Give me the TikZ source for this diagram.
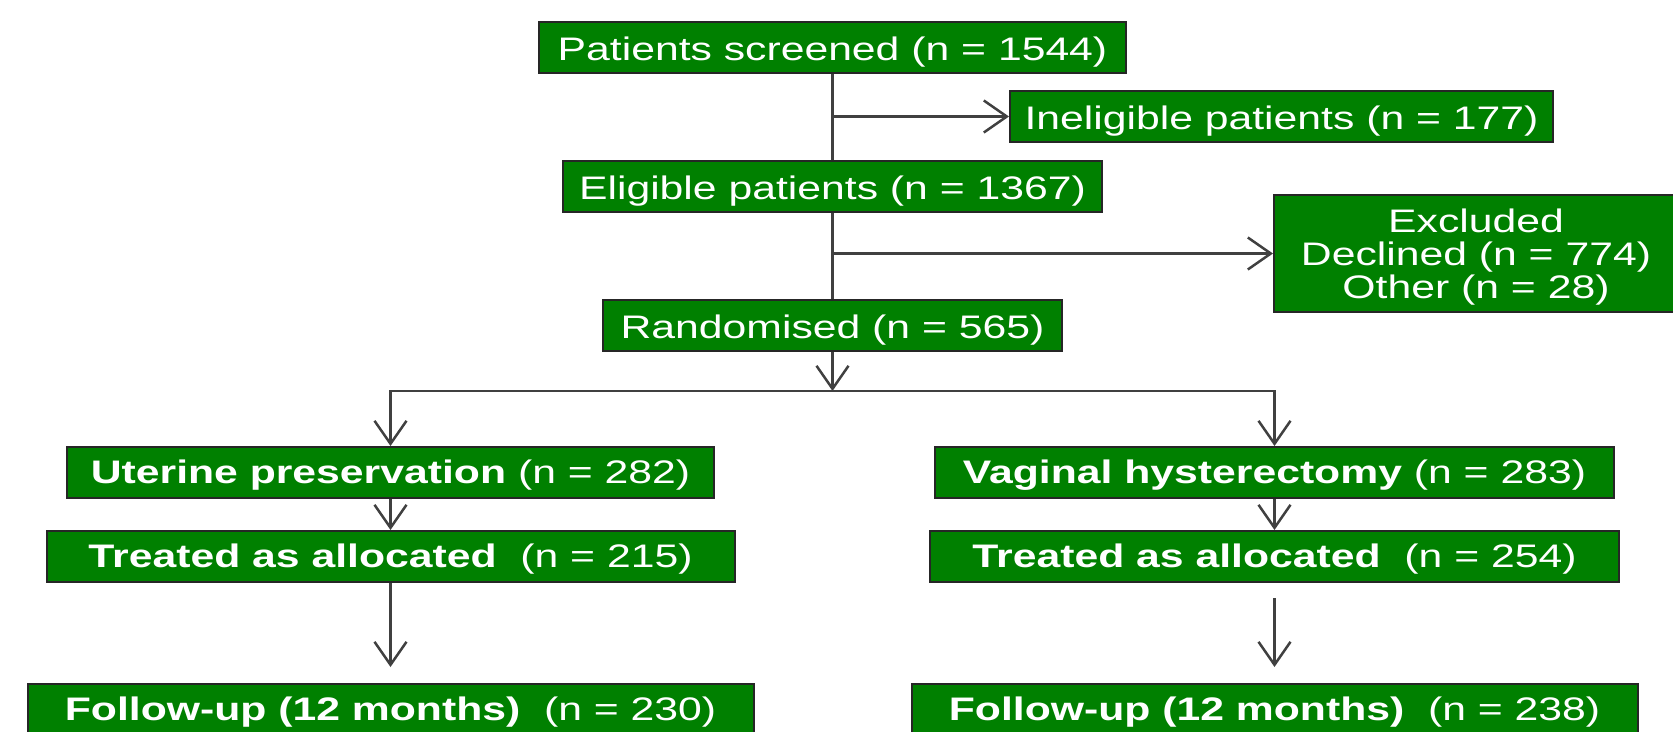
\documentclass[tikz,border=0pt]{standalone}
\usepackage{fontspec}
\setmainfont{Liberation Sans}[FakeStretch=1.31]
\usepackage{xcolor}
\usetikzlibrary{arrows.meta,positioning}
\definecolor{boxgreen}{RGB}{0,128,0}

\begin{document}
\begin{tikzpicture}[
x=1pt, y=-1pt,
node distance=86pt,
greenbox/.style={draw=black!85, line width=2pt, fill=boxgreen, text=white, inner sep=0pt, minimum height=51pt, align=center, font={\fontsize{32.6}{33}\selectfont}},
box/.style={greenbox, text height=25pt, text depth=0pt},
armbox/.style={greenbox, text height=24pt, text depth=2.4pt},
line/.style={line width=2.5pt, draw=black!75},
arr/.style={line, -{Straight Barb[length=23pt, width=32pt, line width=2.5pt]}}
]
\useasboundingbox (0,0) rectangle (1673,731);

\node[box, minimum width=587pt] (screened) at (832.5,47.5) {Patients screened (n = 1544)};
\node[box, minimum width=539pt, below=of screened] (eligible) {Eligible patients (n = 1367)};
\node[box, minimum width=459pt, below=of eligible] (rand) {Randomised (n = 565)};
\node[box, minimum width=543pt] (inelig) at (1281.5,116.5) {Ineligible patients (n = 177)};
\node[greenbox, minimum width=404pt, minimum height=117pt] (excl) at (1476,253.5) {\rule{0pt}{30pt}Excluded\\Declined (n = 774)\\Other (n = 28)};

\node[armbox, minimum width=647pt] (uterine) at (390.5,472.5) {\textbf{Uterine preservation} (n = 282)};
\node[armbox, minimum width=688pt, below=31pt of uterine] (treatL) {\textbf{Treated as allocated}\ \ (n = 215)};
\node[armbox, minimum width=726pt, below=100pt of treatL] (followL) {\textbf{Follow-up (12 months)}\ \ (n = 230)};

\node[armbox, minimum width=679pt] (vaginal) at (1274.5,472.5) {\textbf{Vaginal hysterectomy} (n = 283)};
\node[armbox, minimum width=689pt, below=31pt of vaginal] (treatR) {\textbf{Treated as allocated}\ \ (n = 254)};
\node[armbox, minimum width=726pt, below=100pt of treatR] (followR) {\textbf{Follow-up (12 months)}\ \ (n = 238)};

\coordinate (split) at (832.5,391);
\coordinate (tipL) at (390.5,667);
\coordinate (startR) at (1274.5,598);
\coordinate (tipR) at (1274.5,667);

\draw[line] (screened) -- (eligible);
\draw[arr] (screened |- inelig) -- (inelig);
\draw[line] (eligible) -- (rand);
\draw[arr] (eligible |- excl) -- (excl);
\draw[arr] (rand) -- (split);
\draw[arr] (split) -| (uterine);
\draw[arr] (split) -| (vaginal);
\draw[arr] (uterine) -- (treatL);
\draw[arr] (vaginal) -- (treatR);
\draw[arr] (treatL) -- (tipL);
\draw[arr] (startR) -- (tipR);
\end{tikzpicture}
\end{document}
